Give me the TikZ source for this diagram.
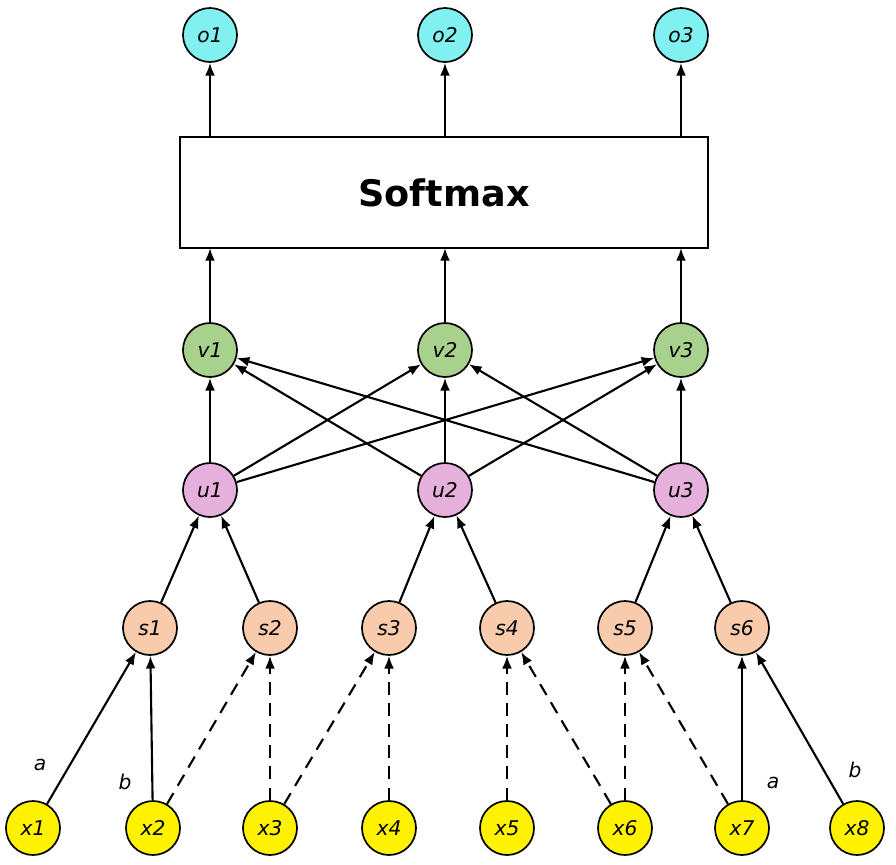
\documentclass[tikz,border=0pt]{standalone}
\usepackage{fontspec}
\setmainfont{DejaVu Sans}
\usetikzlibrary{arrows.meta}
\begin{document}
\begin{tikzpicture}[x=0.025cm,y=-0.025cm,
 nd/.style={circle,draw,line width=1.2pt,minimum size=1.35cm,inner sep=0pt,font=\Large\itshape},
 ar/.style={-{Latex[length=9pt,width=7pt]},line width=1.5pt},
 da/.style={ar,dash pattern=on 9pt off 6pt},
 lab/.style={font=\Large\itshape}]
\useasboundingbox (0,0) rectangle (896,864);
\definecolor{cy}{HTML}{80F0F0}\definecolor{gr}{HTML}{A9D18E}
\definecolor{pk}{HTML}{E6B0DC}\definecolor{og}{HTML}{F8CBAD}
\foreach \i/\x in {1/33,2/153,3/270,4/389,5/507,6/625,7/742,8/857}
  \node[nd,fill=yellow] (x\i) at (\x,828) {x\i};
\foreach \i/\x in {1/150,2/270,3/389,4/507,5/625,6/742}
  \node[nd,fill=og] (s\i) at (\x,628) {s\i};
\foreach \i/\x in {1/210,2/445,3/681}{
  \node[nd,fill=pk] (u\i) at (\x,490) {u\i};
  \node[nd,fill=gr] (v\i) at (\x,350) {v\i};
  \node[nd,fill=cy] (o\i) at (\x,35) {o\i};
  \coordinate (bb\i) at (\x,248); \coordinate (bt\i) at (\x,137);}
\node[draw,line width=1.2pt,minimum width=13.2cm,minimum height=2.775cm,font=\bfseries\fontsize{26}{30}\selectfont] (sm) at (444,192.5) {Softmax};
\draw[ar] (x1)--(s1); \draw[ar] (x2)--(s1);
\draw[da] (x2)--(s2); \draw[da] (x3)--(s2);
\draw[da] (x3)--(s3); \draw[da] (x4)--(s3);
\draw[da] (x5)--(s4); \draw[da] (x6)--(s4);
\draw[da] (x6)--(s5); \draw[da] (x7)--(s5);
\draw[ar] (x7)--(s6); \draw[ar] (x8)--(s6);
\draw[ar] (s1)--(u1); \draw[ar] (s2)--(u1);
\draw[ar] (s3)--(u2); \draw[ar] (s4)--(u2);
\draw[ar] (s5)--(u3); \draw[ar] (s6)--(u3);
\foreach \i in {1,2,3}\foreach \j in {1,2,3} \draw[ar] (u\i)--(v\j);
\foreach \i in {1,2,3}{\draw[ar] (v\i)--(bb\i); \draw[ar] (bt\i)--(o\i);}
\node[lab] (la1) at (40,765) {a};
\node[lab] (lb1) at (125,782) {b};
\node[lab] (la2) at (773,783) {a};
\node[lab] (lb2) at (855,770) {b};
\end{tikzpicture}
\end{document}
